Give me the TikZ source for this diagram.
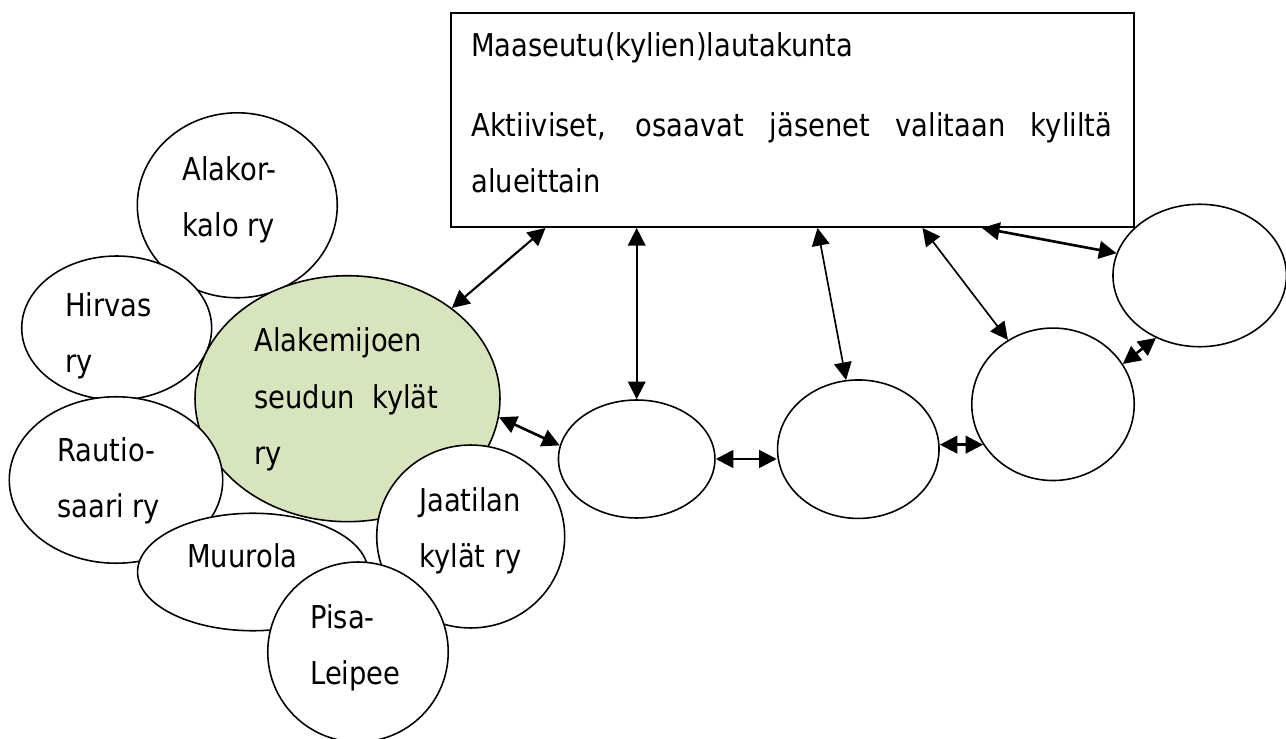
\documentclass[tikz,border=0pt]{standalone}
\usepackage{fontspec}
\setmainfont{DejaVu Sans}[FakeStretch=0.87]
\usetikzlibrary{arrows.meta}
\usetikzlibrary{shapes.geometric}
\definecolor{villagegreen}{RGB}{215,228,189}

\begin{document}
\begin{tikzpicture}[x=0.02cm, y=-0.02cm,
    village/.style={ellipse, draw, fill=white, line width=0.9pt, inner sep=0pt},
    vtext/.style={anchor=base west, align=left, inner sep=0pt, font=\fontsize{17.9pt}{32.4pt}\selectfont},
    link/.style={{Triangle[length=10pt,width=10pt]}-{Triangle[length=10pt,width=10pt]}, line width=0.95pt},
    thicklink/.style={link, line width=1.5pt}]
      \useasboundingbox (0,0) rectangle (1286,739);

      % the board
      \node[draw, line width=1.15pt, inner sep=0pt, minimum width=13.66cm, minimum height=4.28cm] (board) at (792.5,120) {};

      % villages round the green one
      \node[village, minimum width=4.0cm, minimum height=3.7cm] (alakor) at (237.3,205.3) {};
      \node[village, minimum width=3.8cm, minimum height=2.88cm] (hirvas) at (116.7,328) {};
      \node[village, fill=villagegreen, minimum width=6.1cm, minimum height=4.92cm] (green) at (347.5,398.7) {};
      \node[village, minimum width=4.27cm, minimum height=3.33cm] (rautio) at (116,480) {};
      \node[village, minimum width=4.61cm, minimum height=2.35cm] (muurola) at (252.8,572) {};
      \node[village, minimum width=3.76cm, minimum height=3.66cm] (jaatila) at (470.7,536.5) {};
      \node[village, minimum width=3.61cm, minimum height=3.6cm] (pisa) at (358,652) {};

      % empty areas
      \node[village, minimum width=3.13cm, minimum height=2.36cm] (e1) at (636.7,459) {};
      \node[village, minimum width=3.23cm, minimum height=2.77cm] (e2) at (858.3,449.2) {};
      \node[village, minimum width=3.25cm, minimum height=3.05cm] (e3) at (1053,404.3) {};
      \node[village, minimum width=3.47cm, minimum height=2.85cm] (e4) at (1199.7,275.5) {};

      % texts (placed by the baseline of their last line)
      \node[vtext] (boardtext) at (471,193) {Maaseutu(kylien)lautakunta\\[0.46cm]\makebox[12.82cm][s]{Aktiiviset, osaavat jäsenet valitaan kyliltä}\\alueittain};
      \node[vtext] (alakortext) at (182,237) {Alakor-\\kalo ry};
      \node[vtext] (hirvastext) at (65,373) {Hirvas\\ry};
      \node[vtext] (greentext) at (254,465) {Alakemijoen\\seudun~~kylät\\ry};
      \node[vtext] (rautiotext) at (57,518) {Rautio-\\saari ry};
      \node[vtext] (muurolatext) at (187,568) {Muurola};
      \node[vtext] (jaatilatext) at (419,568) {Jaatilan\\kylät ry};
      \node[vtext] (pisatext) at (310,685) {Pisa-\\Leipee};

      % arrows
      \draw[link, line width=1.2pt] ([xshift=1.91cm]board.south west) -- (green.41);
      \draw[link] (e1.north |- board.south) -- (e1.north);
      \draw[link] ([xshift=7.35cm]board.south west) -- (e2.100);
      \draw[link] ([xshift=9.45cm]board.south west) -- (e3.125);
      \draw[thicklink] ([xshift=10.64cm]board.south west) -- (e4.165);
      \draw[thicklink] (e3.30) -- (e4.235);
      \draw[thicklink] (green.353) -- (e1.170);
      \draw[thicklink] (e1.east) -- (e1.east -| e2.west);
      \draw[thicklink] (e3.210 -| e2.east) -- (e3.210);
    \end{tikzpicture}
\end{document}
